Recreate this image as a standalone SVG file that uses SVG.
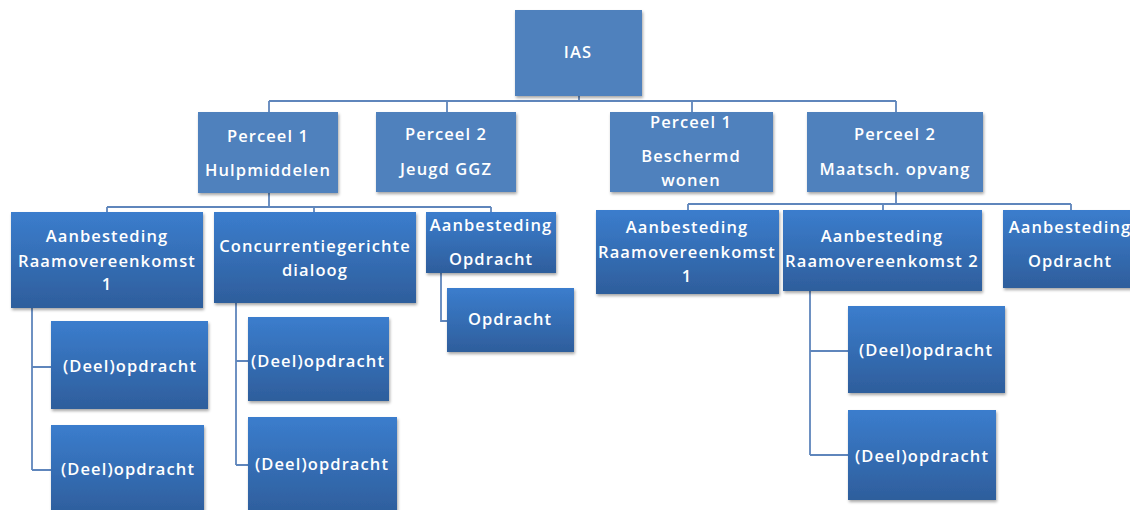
<svg xmlns="http://www.w3.org/2000/svg" width="1130" height="510" viewBox="0 0 1130 510">
<defs>
<linearGradient id="g" x1="0" y1="0" x2="0" y2="1">
<stop offset="0" stop-color="#3B7DCD"/>
<stop offset="1" stop-color="#2E5E9C"/>
</linearGradient>
<filter id="sh" x="-10%" y="-10%" width="125%" height="130%">
<feDropShadow dx="1" dy="2" stdDeviation="1.5" flood-color="#000" flood-opacity="0.35"/>
</filter>
<style>
.top{fill:#4F81BD;filter:url(#sh)}
.low{fill:url(#g);filter:url(#sh)}
.t{font-family:"Open Sans","Liberation Sans",sans-serif;font-weight:600;font-size:16.5px;fill:#fff;text-anchor:middle;letter-spacing:1.1px}
.c{fill:none;stroke:#5F86BC;stroke-width:1.8}
</style>
</defs>
<rect width="1130" height="510" fill="#fff"/>
<g id="connectors">
<path class="c" d="M579 96V101M269 101H896M269 101V112M447 101V112M692 101V112M896 101V112"/>
<path class="c" d="M269 193V207M107 207H491M107 207V212M314 207V212M491 207V212"/>
<path class="c" d="M896 192V204M688 204H1071M688 204V210M883 204V210M1071 204V210"/>
<path class="c" d="M441 273V321H447"/>
<path class="c" d="M32 308V470M32 367H51M32 470H51"/>
<path class="c" d="M236 303V465M236 361H248M236 465H248"/>
<path class="c" d="M810 291V455M810 351H848M810 455H848"/>
</g>
<g id="n-ias"><rect class="top" x="515" y="10" width="127" height="86"/><text class="t" x="578" y="58">IAS</text></g>
<g id="n-p1h"><rect class="top" x="198" y="112" width="140" height="81"/><text class="t" x="268" y="142">Perceel 1</text><text class="t" x="268" y="176">Hulpmiddelen</text></g>
<g id="n-p2j"><rect class="top" x="376" y="112" width="140" height="80"/><text class="t" x="446" y="140">Perceel 2</text><text class="t" x="446" y="175">Jeugd GGZ</text></g>
<g id="n-p1b"><rect class="top" x="610" y="112" width="163" height="80"/><text class="t" x="691" y="128">Perceel 1</text><text class="t" x="691" y="162">Beschermd</text><text class="t" x="691" y="186">wonen</text></g>
<g id="n-p2m"><rect class="top" x="807" y="112" width="176" height="80"/><text class="t" x="895" y="140">Perceel 2</text><text class="t" x="895" y="175">Maatsch. opvang</text></g>
<g id="n-ar1l"><rect class="low" x="11" y="212" width="192" height="96"/><text class="t" x="107" y="242">Aanbesteding</text><text class="t" x="107" y="267">Raamovereenkomst</text><text class="t" x="107" y="290">1</text></g>
<g id="n-cd"><rect class="low" x="214" y="212" width="202" height="91"/><text class="t" x="315" y="252">Concurrentiegerichte</text><text class="t" x="315" y="276">dialoog</text></g>
<g id="n-aol"><rect class="low" x="426" y="212" width="130" height="61"/><text class="t" x="491" y="231">Aanbesteding</text><text class="t" x="491" y="265">Opdracht</text></g>
<g id="n-op"><rect class="low" x="447" y="288" width="127" height="64"/><text class="t" x="510" y="325">Opdracht</text></g>
<g id="n-ar1r"><rect class="low" x="596" y="210" width="183" height="84"/><text class="t" x="687" y="233">Aanbesteding</text><text class="t" x="687" y="258">Raamovereenkomst</text><text class="t" x="687" y="282">1</text></g>
<g id="n-ar2"><rect class="low" x="783" y="210" width="199" height="81"/><text class="t" x="882" y="242">Aanbesteding</text><text class="t" x="882" y="267">Raamovereenkomst 2</text></g>
<g id="n-aor"><rect class="low" x="1003" y="210" width="140" height="78"/><text class="t" x="1070" y="233">Aanbesteding</text><text class="t" x="1070" y="267">Opdracht</text></g>
<g id="n-d1"><rect class="low" x="51" y="321" width="157" height="88"/><text class="t" x="130" y="372">(Deel)opdracht</text></g>
<g id="n-d2"><rect class="low" x="51" y="425" width="153" height="90"/><text class="t" x="128" y="475">(Deel)opdracht</text></g>
<g id="n-d3"><rect class="low" x="248" y="317" width="141" height="84"/><text class="t" x="318" y="367">(Deel)opdracht</text></g>
<g id="n-d4"><rect class="low" x="248" y="417" width="149" height="98"/><text class="t" x="322" y="470">(Deel)opdracht</text></g>
<g id="n-d5"><rect class="low" x="848" y="306" width="157" height="87"/><text class="t" x="926" y="356">(Deel)opdracht</text></g>
<g id="n-d6"><rect class="low" x="848" y="410" width="148" height="90"/><text class="t" x="922" y="462">(Deel)opdracht</text></g>
</svg>
